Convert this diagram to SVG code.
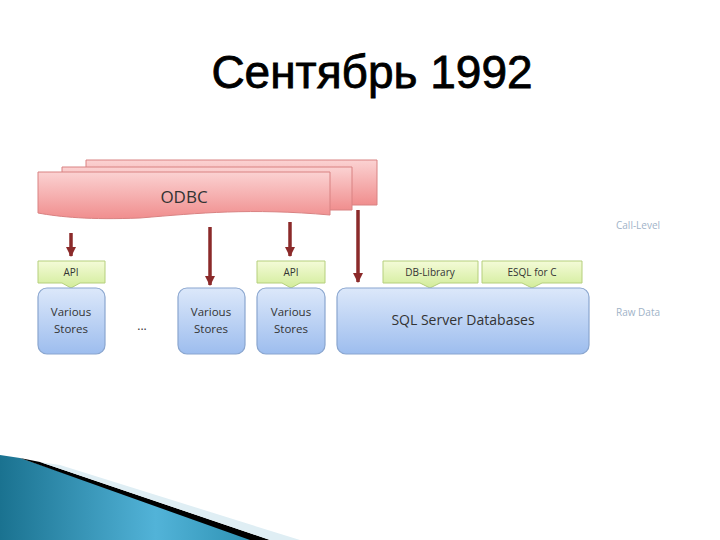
<svg xmlns="http://www.w3.org/2000/svg" width="720" height="540" viewBox="0 0 720 540">
<defs>
<linearGradient id="pink" x1="0" y1="0" x2="0" y2="1"><stop offset="0" stop-color="#fbd2d2"/><stop offset="1" stop-color="#f08e8e"/></linearGradient>
<linearGradient id="blue" x1="0" y1="0" x2="0" y2="1"><stop offset="0" stop-color="#dce8fa"/><stop offset="1" stop-color="#9dbdee"/></linearGradient>
<linearGradient id="green" x1="0" y1="0" x2="0" y2="1"><stop offset="0" stop-color="#f4fbd8"/><stop offset="1" stop-color="#d2ec9a"/></linearGradient>
<linearGradient id="teal" x1="0" y1="0" x2="1" y2="0"><stop offset="0" stop-color="#1a7290"/><stop offset="0.6" stop-color="#52b3d8"/><stop offset="1" stop-color="#2b8fb0"/></linearGradient>
<marker id="ah" viewBox="0 0 10 10" refX="9" refY="5" markerWidth="3" markerHeight="3" orient="auto"><path d="M0,0 L10,5 L0,10 z" fill="#8b2a2a"/></marker>
</defs>
<style>
.t{font-family:"Liberation Sans",Arial,sans-serif}
.s{font-family:"Open Sans","DejaVu Sans",sans-serif;fill:#333;text-anchor:middle}
.pk{fill:url(#pink);stroke:#d98282;stroke-width:1}
.st{fill:url(#blue);stroke:#8aa6cf;stroke-width:1.2}
.gr{fill:url(#green);stroke:#b5cf7c;stroke-width:1}
.ar{stroke:#8b2a2a;stroke-width:3.5;fill:none;marker-end:url(#ah)}
.side{font-family:"Open Sans","DejaVu Sans",sans-serif;fill:#9fb3c8;font-size:10px}
</style>
<rect width="720" height="540" fill="#fff"/>
<text class="t" x="372" y="88" font-size="46" text-anchor="middle" fill="#000" stroke="#000" stroke-width="0.8">Сентябрь 1992</text>
<g id="odbc">
<path class="pk" d="M86,160 H377 V205 H86 Z"/>
<path class="pk" d="M62,167 H352 V210 H62 Z"/>
<path class="pk" d="M38,172 H330 V215 C250,208 200,213 140,218 C90,220 60,217 38,213 Z"/>
<text class="s" x="184" y="203" font-size="17">ODBC</text>
</g>
<g id="connectors">
<line class="ar" x1="71" y1="233" x2="71" y2="256"/>
<line class="ar" x1="210" y1="227" x2="210" y2="285"/>
<line class="ar" x1="290" y1="222" x2="290" y2="256"/>
<line class="ar" x1="358" y1="210" x2="358" y2="282"/>
</g>
<g id="api1"><path class="gr" d="M38,261 H105 V283 H80 L71,288 L62,283 H38 Z"/><text class="s" x="71" y="276" font-size="10">API</text></g>
<g id="api2"><path class="gr" d="M257,261 H325 V283 H300 L291,288 L282,283 H257 Z"/><text class="s" x="291" y="276" font-size="10">API</text></g>
<g id="dblib"><path class="gr" d="M383,261 H478 V283 H440 L430,288 L420,283 H383 Z"/><text class="s" x="430" y="276" font-size="10">DB-Library</text></g>
<g id="esql"><path class="gr" d="M482,261 H582 V283 H542 L532,288 L522,283 H482 Z"/><text class="s" x="532" y="276" font-size="10">ESQL for C</text></g>
<g id="store1"><rect class="st" x="38" y="288" width="67" height="66" rx="9"/><text class="s" x="71" y="316" font-size="11.5">Various</text><text class="s" x="71" y="333" font-size="11.5">Stores</text></g>
<text class="s" x="142" y="330" font-size="12">...</text>
<g id="store2"><rect class="st" x="178" y="288" width="67" height="66" rx="9"/><text class="s" x="211" y="316" font-size="11.5">Various</text><text class="s" x="211" y="333" font-size="11.5">Stores</text></g>
<g id="store3"><rect class="st" x="257" y="288" width="68" height="66" rx="9"/><text class="s" x="291" y="316" font-size="11.5">Various</text><text class="s" x="291" y="333" font-size="11.5">Stores</text></g>
<g id="sql"><rect class="st" x="337" y="288" width="252" height="66" rx="9"/><text class="s" x="463" y="325" font-size="14">SQL Server Databases</text></g>
<text class="side" x="616" y="229">Call-Level</text>
<text class="side" x="616" y="316">Raw Data</text>
<path d="M0,455 L20,458 L260,540 H0 Z" fill="url(#teal)"/>
<path d="M20,458 L40,462 L270,540 H250 Z" fill="#000"/>
<path d="M40,462 L60,465 L300,540 H270 Z" fill="#dfeef4"/>
</svg>
